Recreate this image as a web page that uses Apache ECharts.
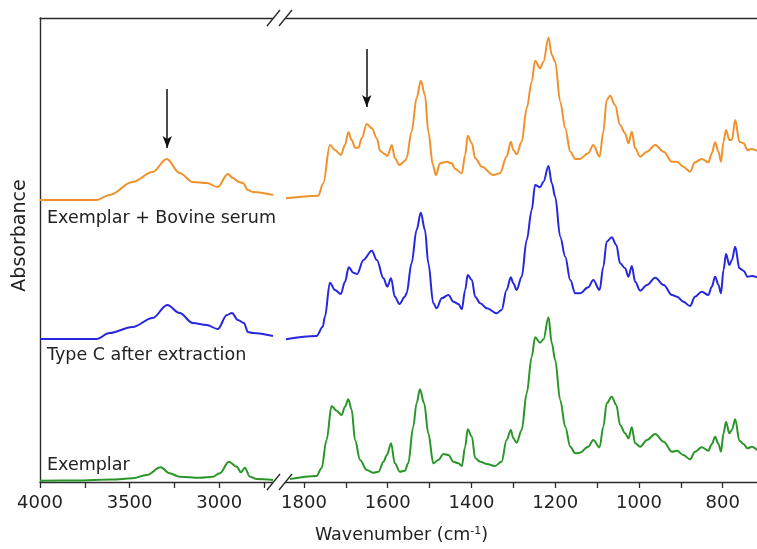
<!DOCTYPE html>
<html><head><meta charset="utf-8">
<script src="https://cdn.jsdelivr.net/npm/echarts@6/dist/echarts.min.js"></script>
<style>html,body{margin:0;padding:0;background:#fff}#c{width:757px;height:549px}</style>
</head><body><div id="c"></div>
<script>
// ---- axis ranges & ticks (wavenumber, cm-1) ----
const leftRange = [2672, 4000];
const rightRange = [718, 1862];
const leftTickValues = [4000, 3750, 3500, 3250, 3000, 2750];
const leftLabelValues = [4000, 3500, 3000];
const rightTickValues = [1800, 1700, 1600, 1500, 1400, 1300, 1200, 1100, 1000, 900, 800];
const rightLabelValues = [1800, 1600, 1400, 1200, 1000, 800];
const absRange = [0, 464];

// ---- series names ----
const seriesNames = ['Exemplar + Bovine serum', 'Type C after extraction', 'Exemplar'];

// ---- spectra: [wavenumber, absorbance (arb. units, offset-stacked)] ----
const bovineLeft = [[4000,282],[3685,282],[3612,287],[3484,300],[3372,310],[3293,323],[3221,309],[3148,300],[3070,299],[3008,295],[2952,308],[2924,304],[2890,300],[2868,299],[2840,292],[2812,290],[2700,287]];
const typeCLeft = [[4000,143],[3685,143],[3612,149],[3484,155],[3372,164],[3290,177],[3221,169],[3148,159],[3070,157],[3008,153],[2957,167],[2929,169],[2896,162],[2862,159],[2840,150],[2812,149],[2700,146]];
const exemplarLeft = [[4000,1.3],[3800,1.5],[3600,2.5],[3484,3.7],[3405,7],[3327,14.7],[3277,8.7],[3221,5.3],[3108,4.3],[3036,5.3],[2997,8.7],[2946,20.3],[2902,15.3],[2879,9.7],[2857,14.3],[2829,5.3],[2790,3],[2700,2]];

const bovineRight = [[1843,283.7],[1766,286.3],[1754,298.7],[1738,337],[1726,332],[1712,327],[1702,337],[1694,349.7],[1686,342],[1678,334.3],[1670,334.3],[1662,343.7],[1650,358],[1638,353.7],[1626,343.7],[1618,331],[1606,327.7],[1601,326],[1590,337],[1583,323.7],[1572,317],[1559,321],[1555,323.7],[1543,350.3],[1531,383.7],[1521,401.3],[1511,387],[1503,350.3],[1492,317],[1485,307],[1475,318.7],[1459,320.3],[1447,318.7],[1439,313],[1423,308.7],[1415,327],[1409,346.3],[1399,338.7],[1391,323.7],[1375,315.3],[1348,307],[1332,308.7],[1316,325.3],[1306,340.3],[1300,332],[1292,327.7],[1280,340.3],[1268,373.7],[1256,400.3],[1248,421.3],[1236,413.7],[1228,420.3],[1216,444.3],[1208,427],[1200,420.3],[1188,380.3],[1176,353.7],[1164,330.3],[1152,323],[1141,323],[1121,328.7],[1109,337],[1094,325.3],[1085,350.3],[1077,382],[1069,386.3],[1057,377],[1045,357],[1033,348.7],[1025,338.7],[1017,350.3],[1009,333.7],[997,325.3],[981,330.3],[961,337],[941,330.3],[921,320.3],[909,320.3],[894,315.3],[878,310.3],[866,319.7],[850,323],[834,319.7],[826,328.7],[818,339.7],[810,330.3],[804,320.3],[798,340.3],[792,352],[784,342],[778,342],[770,362],[760,340.3],[750,338.7],[741,332],[730,333],[718,331]];
const typeCRight = [[1843,142.7],[1770,146],[1755,155.3],[1750,165.3],[1738,199.3],[1726,192],[1712,188],[1702,200.3],[1693,214.7],[1682,209.3],[1673,208],[1658,222],[1638,231.3],[1626,222],[1610,203.7],[1601,195.3],[1592,203.7],[1583,185.3],[1572,178],[1559,185.3],[1555,188.7],[1543,218.7],[1531,252],[1521,269.3],[1511,252],[1503,218.7],[1491,178.7],[1483,173.7],[1471,183.7],[1455,187],[1443,180.3],[1431,178],[1423,172.7],[1415,192],[1409,207],[1399,202],[1391,185.3],[1379,178.7],[1363,173.7],[1340,168.7],[1328,172],[1316,192],[1306,204.7],[1300,198.7],[1292,192],[1280,205.3],[1268,242],[1256,272],[1248,297],[1236,294.7],[1228,300.3],[1216,316],[1208,298.7],[1200,285.3],[1188,245.3],[1176,225.3],[1164,202],[1152,188.7],[1141,188.7],[1121,194.7],[1109,202],[1094,192],[1085,215.3],[1077,240.3],[1065,244.7],[1054,237],[1045,218.7],[1033,213.7],[1025,205.3],[1017,216],[1009,200.3],[997,191.3],[981,197],[961,204.3],[941,197],[921,187],[909,185.3],[894,180.3],[878,176],[866,185.3],[850,190.3],[834,187],[826,195.3],[818,205.3],[810,197],[804,188.7],[798,212],[792,228],[784,217],[778,222],[770,235.3],[760,213.7],[750,211.3],[741,205.3],[730,206],[718,204.7]];
const exemplarRight = [[1833,3],[1770,6],[1758,13.7],[1746,42],[1734,76],[1722,71.3],[1710,67],[1702,75.3],[1694,82.7],[1686,72],[1678,42],[1666,22],[1650,12],[1634,9.3],[1622,10.3],[1610,20.3],[1602,27],[1592,38.7],[1583,18.7],[1571,10.3],[1559,11.3],[1551,18.7],[1539,55.3],[1531,78.7],[1523,92.7],[1513,78.7],[1503,48.7],[1491,18.7],[1479,22],[1467,28],[1455,27],[1443,20.3],[1431,18.7],[1423,16],[1415,35.3],[1409,52.7],[1399,45.3],[1391,23.7],[1379,20.3],[1363,18],[1344,16],[1328,20.3],[1316,42],[1306,52],[1300,43.7],[1292,39.3],[1280,52],[1268,88.7],[1256,125.3],[1248,144.7],[1236,139.3],[1228,142.7],[1216,164.7],[1208,138.7],[1200,122],[1188,82],[1176,55.3],[1164,35.3],[1152,28.7],[1141,29.3],[1121,35.3],[1109,42],[1094,34.7],[1085,55.3],[1077,78.7],[1065,85.3],[1054,77],[1045,57],[1033,48.7],[1025,43.7],[1017,54.7],[1009,38.7],[997,35.3],[981,42],[961,48],[941,40.3],[921,30.3],[909,31.3],[894,27],[878,22.7],[866,30.3],[850,34.7],[834,31.3],[826,38],[818,45.3],[810,38],[804,30.3],[798,48.7],[792,60.3],[784,48.7],[778,52],[770,62.7],[760,41.3],[750,38],[741,33.7],[730,35.3],[718,32]];

// ---- arrows: [wavenumber, start absorbance, tip absorbance] ----
const arrowLeft = [3290, 393, 334];
const arrowRight = [1650, 433, 375];

// ---- style / layout ----
const colors = ['#F0912C', '#2626DE', '#2A962A'];
const axisColor = '#2b2b2b';
const FONT = 'DejaVu Sans';
const G0 = {left: 40, top: 18, width: 238, height: 464};
const G1 = {left: 278, top: 18, width: 479, height: 464};

const chart = echarts.init(document.getElementById('c'), null, {renderer: 'canvas'});

function bottomAxis(gridIndex, range, ticks, labels, extra) {
  return Object.assign({
    type: 'value', gridIndex, inverse: true, min: range[0], max: range[1],
    position: 'bottom',
    axisLine: {show: true, onZero: false, lineStyle: {color: axisColor, width: 1.4}},
    axisTick: {show: true, inside: false, length: 6, customValues: ticks, lineStyle: {color: axisColor, width: 1.3}},
    axisLabel: {show: true, customValues: labels, margin: 12, color: '#222', fontFamily: FONT, fontSize: 18,
      hideOverlap: false, showMinLabel: true, showMaxLabel: true, formatter: v => String(v)},
    splitLine: {show: false}
  }, extra || {});
}
function topAxis(gridIndex, range) {
  return {
    type: 'value', gridIndex, inverse: true, min: range[0], max: range[1], position: 'top',
    axisLine: {show: true, onZero: false, lineStyle: {color: axisColor, width: 1.4}},
    axisTick: {show: false}, axisLabel: {show: false}, splitLine: {show: false}
  };
}
function lineSeries(name, xi, yi, data, color, extra) {
  return Object.assign({
    name, type: 'line', xAxisIndex: xi, yAxisIndex: yi, data,
    showSymbol: false, symbol: 'none', smooth: 0.35, smoothMonotone: 'x',
    lineStyle: {color, width: 2}, itemStyle: {color}, silent: true, animation: false
  }, extra || {});
}
function arrowMark(a) {
  return {
    silent: true, animation: false,
    symbol: ['none', 'arrow'], symbolSize: [7, 12],
    label: {show: false},
    lineStyle: {color: '#111', width: 1.5, type: 'solid'},
    itemStyle: {color: '#111'},
    data: [[{coord: [a[0], a[1]]}, {coord: [a[0], a[2]]}]]
  };
}

// break marks ("//") at grid boundary, on the top and bottom frame lines
const bx = G1.left;
const breakGraphics = [];
[G0.top, G0.top + G0.height].forEach(y0 => {
  breakGraphics.push({type: 'polygon', z: 100, shape: {points: [[bx - 11, y0 + 8], [bx + 2, y0 - 8], [bx + 14, y0 - 8], [bx + 1, y0 + 8]]}, style: {fill: '#fff'}});
  breakGraphics.push({type: 'line', z: 101, shape: {x1: bx - 11, y1: y0 + 8, x2: bx + 2, y2: y0 - 8}, style: {stroke: axisColor, lineWidth: 1.4}});
  breakGraphics.push({type: 'line', z: 101, shape: {x1: bx + 1, y1: y0 + 8, x2: bx + 14, y2: y0 - 8}, style: {stroke: axisColor, lineWidth: 1.4}});
});

const labelYs = [218, 355, 465];
const seriesLabels = seriesNames.map((n, i) => ({
  type: 'text', z: 100, left: 47, top: labelYs[i] - 9,
  style: {text: n, fill: '#222', font: '17.5px "' + FONT + '"'}
}));

chart.setOption({
  animation: false,
  backgroundColor: '#fff',
  grid: [
    Object.assign({outerBoundsMode: 'none', containLabel: false}, G0),
    Object.assign({outerBoundsMode: 'none', containLabel: false}, G1)
  ],
  xAxis: [
    bottomAxis(0, leftRange, leftTickValues, leftLabelValues),
    bottomAxis(1, rightRange, rightTickValues, rightLabelValues, {
      name: 'Wavenumber (cm{sup|-1})', nameLocation: 'middle', nameGap: 44,
      nameTextStyle: {color: '#222', fontFamily: FONT, fontSize: 17.5, padding: [0, 232, 0, 0],
        rich: {sup: {fontSize: 11, fontFamily: FONT, color: '#222', verticalAlign: 'top', padding: [0, 0, 8, 0]}}}
    }),
    topAxis(0, leftRange),
    topAxis(1, rightRange)
  ],
  yAxis: [
    {type: 'value', gridIndex: 0, min: absRange[0], max: absRange[1],
     name: 'Absorbance', nameLocation: 'middle', nameGap: 10,
     nameTextStyle: {color: '#222', fontFamily: FONT, fontSize: 19, padding: [0, 0, 0, 29]},
     axisLine: {show: true, lineStyle: {color: axisColor, width: 1.4}},
     axisTick: {show: false}, axisLabel: {show: false}, splitLine: {show: false}},
    {type: 'value', gridIndex: 1, min: absRange[0], max: absRange[1],
     axisLine: {show: false}, axisTick: {show: false}, axisLabel: {show: false}, splitLine: {show: false}}
  ],
  series: [
    lineSeries(seriesNames[0], 0, 0, bovineLeft, colors[0], {markLine: arrowMark(arrowLeft)}),
    lineSeries(seriesNames[1], 0, 0, typeCLeft, colors[1]),
    lineSeries(seriesNames[2], 0, 0, exemplarLeft, colors[2]),
    lineSeries(seriesNames[0], 1, 1, bovineRight, colors[0], {markLine: arrowMark(arrowRight)}),
    lineSeries(seriesNames[1], 1, 1, typeCRight, colors[1]),
    lineSeries(seriesNames[2], 1, 1, exemplarRight, colors[2])
  ],
  graphic: breakGraphics.concat(seriesLabels)
});
</script></body></html>
